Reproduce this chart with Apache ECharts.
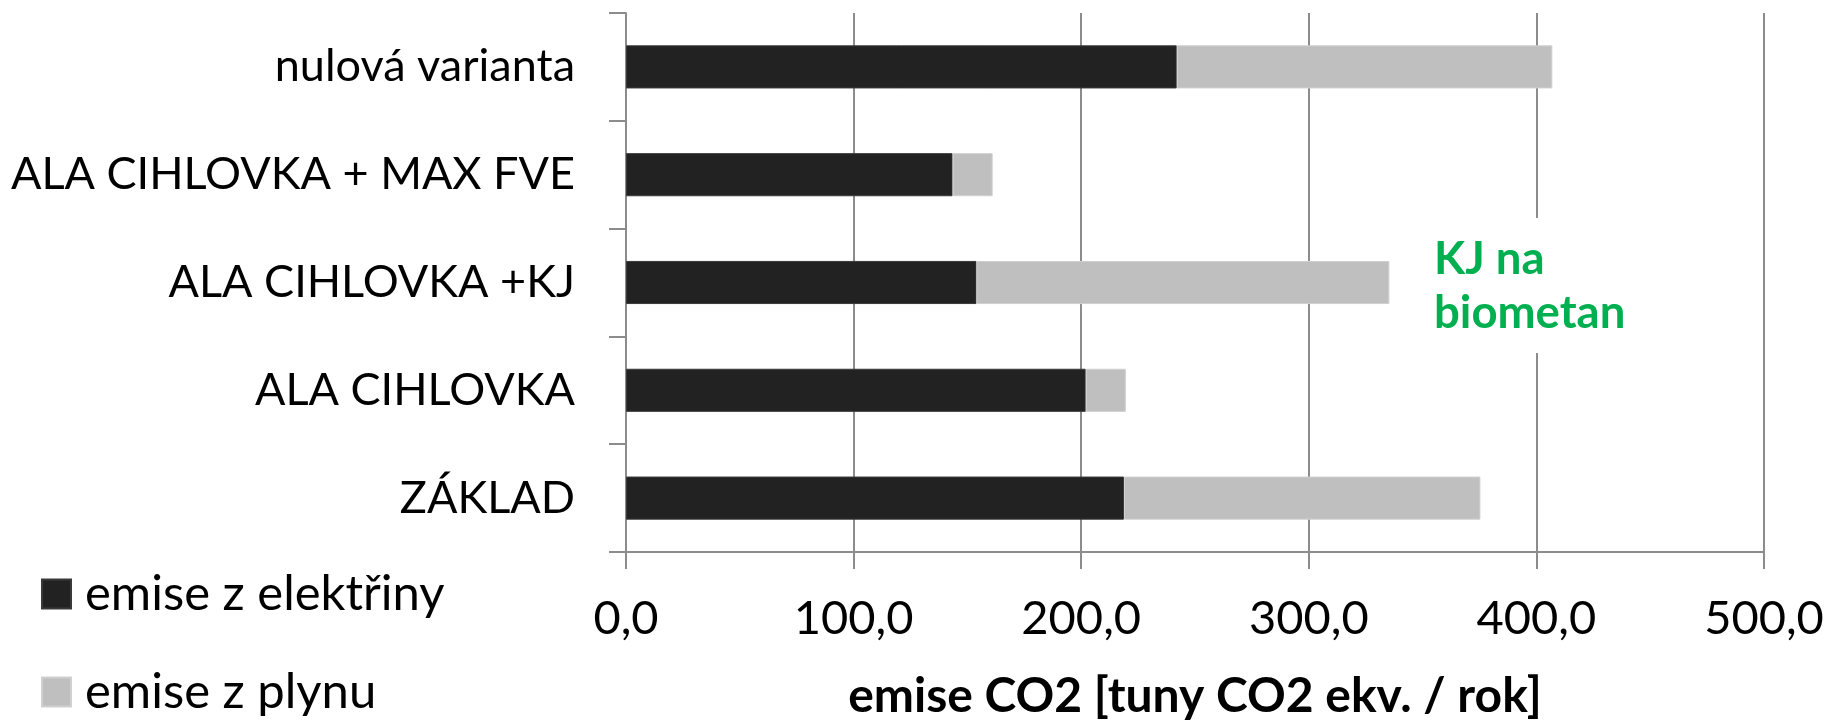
<!DOCTYPE html>
<html>
<head>
<meta charset="utf-8">
<script src="https://cdn.jsdelivr.net/npm/echarts@6/dist/echarts.min.js"></script>
<style>
  html, body { margin: 0; padding: 0; background: #fff; }
  #chart { width: 1831px; height: 726px; }
</style>
</head>
<body>
<div id="chart"></div>
<script>
// kategorie odspodu nahoru (kategoriální osa Y kreslí první položku dole)
const categories = ['ZÁKLAD', 'ALA CIHLOVKA', 'ALA CIHLOVKA +KJ', 'ALA CIHLOVKA + MAX FVE', 'nulová varianta'];
const emiseElektrina = [218.8, 202.0, 154.0, 143.5, 242.0];
const emisePlyn = [156.6, 17.6, 181.4, 17.6, 165.0];
const xTicks = [0, 100, 200, 300, 400, 500];

const FONT = 'Lato';
const gridColor = '#8c8c8c';

let chart = echarts.init(document.getElementById('chart'));
chart.setOption({
  animation: false,
  textStyle: { fontFamily: FONT, color: '#000' },
  grid: { left: 626, right: 67, top: 13, bottom: 168 },
  legend: {
    orient: 'vertical',
    left: 36,
    top: 564,
    itemWidth: 29,
    itemHeight: 29,
    itemGap: 48,
    icon: 'rect',
    textStyle: { fontSize: 49, lineHeight: 50, fontFamily: FONT, color: '#000', padding: [0, 0, 0, 9] },
    data: ['emise z elektřiny', 'emise z plynu']
  },
  xAxis: {
    type: 'value',
    min: xTicks[0],
    max: xTicks[xTicks.length - 1],
    interval: 100,
    axisLine: { show: true, lineStyle: { color: gridColor, width: 2 } },
    axisTick: { show: true, length: 17, lineStyle: { color: gridColor, width: 2 } },
    splitLine: { show: true, lineStyle: { color: gridColor, width: 2 } },
    axisLabel: {
      margin: 43,
      fontSize: 47,
      color: '#000',
      formatter: v => v.toFixed(1).replace('.', ',')
    },
    name: 'emise CO2 [tuny CO2 ekv. / rok]',
    nameLocation: 'middle',
    nameGap: 121,
    nameTextStyle: { fontSize: 48, fontWeight: 'bold', color: '#000' }
  },
  yAxis: {
    type: 'category',
    data: categories,
    axisLine: { show: true, lineStyle: { color: gridColor, width: 2 } },
    axisTick: { show: true, length: 17, lineStyle: { color: gridColor, width: 2 } },
    axisLabel: { margin: 51, fontSize: 45, color: '#000' }
  },
  series: [
    {
      name: 'emise z elektřiny',
      type: 'bar',
      stack: 'celkem',
      barWidth: '40%',
      itemStyle: { color: '#222222', borderColor: '#3a3a3a', borderWidth: 1 },
      data: emiseElektrina
    },
    {
      name: 'emise z plynu',
      type: 'bar',
      stack: 'celkem',
      barWidth: '40%',
      itemStyle: { color: '#bfbfbf', borderColor: '#d0d0d0', borderWidth: 1 },
      data: emisePlyn
    }
  ],
  graphic: [
    // bílé pozadí popisku přerušuje mřížku u 400
    { type: 'rect', shape: { x: 1425, y: 218, width: 225, height: 135 }, style: { fill: '#fff' }, z: 10 },
    {
      type: 'text', left: 1434, top: 232, z: 11,
      style: { text: 'KJ na\nbiometan', fill: '#00b050', font: 'bold 45.5px Lato', lineHeight: 54 }
    }
  ]
});
</script>
</body>
</html>
